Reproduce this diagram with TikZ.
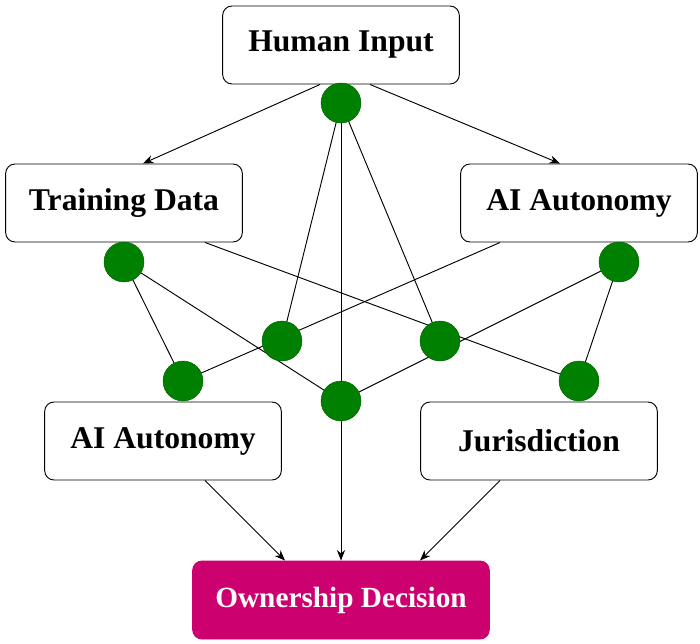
\documentclass[tikz,border=0pt]{standalone}
\usepackage{fontspec}
\setmainfont{Liberation Serif}
\usepackage{tikz}
\usetikzlibrary{positioning, arrows.meta}
\definecolor{decision}{RGB}{204,0,110}
\definecolor{hub}{RGB}{0,128,0}

\begin{document}
\begin{tikzpicture}[x=0.03cm, y=-0.03cm, font=\fontsize{27}{30}\selectfont\bfseries, >={Stealth[length=9pt, width=7pt]},
	b/.style={rectangle, rounded corners=8pt, draw, thick, fill=white, minimum width=7.1cm, minimum height=2.34cm},
	g/.style={circle, fill=hub, draw=hub!80!black, minimum width=1.2cm, inner sep=0pt}]
	\useasboundingbox (0,0) rectangle (700,644);
	\node[b] (human) at (341,45) {Human Input};
	\node[b] (train) at (124,203) {Training Data};
	\node[b] (auto) at (579,203) {AI Autonomy};
	\node[b] (auto2) at (163,441) {AI Autonomy};
	\node[b] (juris) at (539,441) {Jurisdiction};
	\node[b, draw=decision, fill=decision, text=white, minimum width=8.9cm] (own) at (341,600) {\fontsize{25}{28}\selectfont Ownership Decision};

	\coordinate (g1) at (341,103);
	\coordinate (g2) at (124,262);
	\coordinate (g3) at (619,262);
	\coordinate (g4) at (282,341);
	\coordinate (g5) at (440,341);
	\coordinate (g6) at (183,381);
	\coordinate (g7) at (341,401);
	\coordinate (g8) at (579,381);

	\draw[->, thick] (human.south -| 320,0) -- (train.north -| 143,0);
	\draw[->, thick] (human.south -| 370,0) -- (auto.north -| 560,0);
	\draw[->, thick] (g1) -- (own.north);
	\draw[thick] (g1) -- (g4);
	\draw[thick] (g1) -- (g5);
	\draw[thick] (g2) -- (g6);
	\draw[thick] (g2) -- (g7);
	\draw[thick] (g3) -- (g7);
	\draw[thick] (g3) -- (g8);
	\draw[thick] (train.south -| 205,0) -- (g8);
	\draw[thick] (auto.south -| 500,0) -- (g6);
	\draw[->, thick] (auto2.south -| 205,0) -- (own.north -| 285,0);
	\draw[->, thick] (juris.south -| 500,0) -- (own.north -| 420,0);

	\foreach \n in {g1,g2,g3,g4,g5,g6,g7,g8}
		\node[g] at (\n) {};
\end{tikzpicture}
\end{document}
